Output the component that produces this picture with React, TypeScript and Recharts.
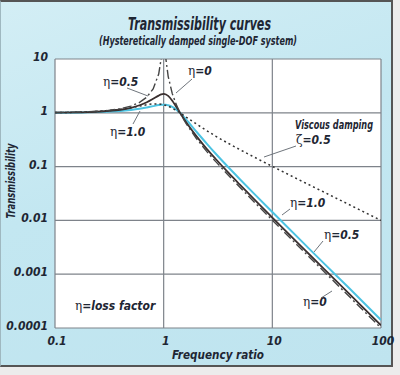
import React from "react";
import { LineChart, Line, XAxis, YAxis, CartesianGrid } from "recharts";

// frequency ratio (x) and transmissibility
const freqRatio = [
  0.1, 0.2, 0.3, 0.4, 0.5, 0.6, 0.7, 0.8, 0.9, 0.95, 1.0, 1.05, 1.1, 1.2, 1.3,
  1.414, 1.6, 2, 2.5, 3, 4, 5, 7, 10, 20, 30, 50, 100,
];
const eta0 = [
  1.01, 1.04, 1.1, 1.19, 1.33, 1.56, 1.96, 2.78, 5.26, 10.3, 100, 9.76, 4.76,
  2.27, 1.45, 1.0, 0.64, 0.333, 0.19, 0.125, 0.0667, 0.0417, 0.0208, 0.0101,
  0.0025, 0.00111, 0.0004, 0.0001,
];
const eta05 = [
  1.01, 1.03, 1.08, 1.14, 1.24, 1.38, 1.57, 1.82, 2.09, 2.2, 2.24, 2.19, 2.06,
  1.68, 1.31, 1.0, 0.68, 0.368, 0.212, 0.14, 0.0745, 0.0466, 0.0233, 0.0113,
  0.0028, 0.00124, 0.00045, 0.000112,
];
const eta10 = [
  1.0, 1.02, 1.05, 1.08, 1.13, 1.19, 1.26, 1.33, 1.39, 1.41, 1.41, 1.41, 1.38,
  1.29, 1.16, 1.0, 0.76, 0.447, 0.265, 0.175, 0.094, 0.059, 0.0295, 0.0143,
  0.00354, 0.00157, 0.00057, 0.000141,
];
const viscous05 = [
  1.01, 1.04, 1.09, 1.16, 1.24, 1.33, 1.41, 1.46, 1.46, 1.44, 1.41, 1.37, 1.33,
  1.22, 1.11, 1.0, 0.84, 0.62, 0.463, 0.37, 0.266, 0.208, 0.146, 0.101, 0.05,
  0.0334, 0.02, 0.01,
];

const xTicks = [0.1, 1, 10, 100];
const xTickLabels = ["0.1", "1", "10", "100"];
const yTicks = [0.0001, 0.001, 0.01, 0.1, 1, 10];
const yTickLabels = ["0.0001", "0.001", "0.01", "0.1", "1", "10"];

const data = freqRatio.map((r, i) => ({
  r,
  eta0: eta0[i],
  eta05: eta05[i],
  eta10: eta10[i],
  viscous: viscous05[i],
}));

const FONT =
  "'Liberation Sans Narrow', 'DejaVu Sans Condensed', 'Liberation Sans', sans-serif";
const INK = "#1e2633";

const labelStyle = {
  fontFamily: FONT,
  fontWeight: 700,
  fontStyle: "italic" as const,
  fill: INK,
};

function XTick({ x, y, payload }: any) {
  const i = xTicks.indexOf(payload.value);
  return (
    <text x={x + 2} y={y + 15} textAnchor="middle" fontSize={12} style={labelStyle}>
      {xTickLabels[i]}
    </text>
  );
}

function YTick({ x, y, payload }: any) {
  const i = yTicks.indexOf(payload.value);
  return (
    <text x={x} y={y + 2} textAnchor="end" fontSize={12} style={labelStyle}>
      {yTickLabels[i]}
    </text>
  );
}

function Greek({ ch }: { ch: string }) {
  return (
    <tspan
      style={{ fontFamily: "'DejaVu Serif', serif", fontWeight: 400, fontStyle: "normal", fill: INK }}
    >
      {ch}
    </tspan>
  );
}

function Eta({ x, y, value }: { x: number; y: number; value: string }) {
  return (
    <text x={x} y={y} fontSize={12} style={labelStyle}>
      <Greek ch="η" />
      {value}
    </text>
  );
}

export default function App() {
  return (
    <div
      style={{
        position: "absolute",
        left: 0,
        top: 0,
        width: 400,
        height: 375,
        background: "#ececec",
      }}
    >
      <div
        style={{
          position: "absolute",
          left: 0,
          top: 0,
          width: 393,
          height: 367,
          background: "linear-gradient(160deg, #d3eef5 0%, #c3e7f1 45%, #bfe4ef 100%)",
          borderTop: "2px solid #555",
          borderRight: "2px solid #555",
          borderBottom: "2px solid #555",
          borderLeft: "1px solid #9fb8c0",
          boxSizing: "border-box",
        }}
      />
      <div style={{ position: "absolute", left: 0, top: 0 }}>
        <LineChart
          width={400}
          height={375}
          data={data}
          margin={{ top: 59, right: 19, bottom: 17, left: 8 }}
        >
          <CartesianGrid stroke="#7e838a" strokeWidth={1.2} fill="#ffffff" fillOpacity={1} />
          <XAxis
            dataKey="r"
            type="number"
            scale="log"
            domain={[0.1, 100]}
            ticks={xTicks}
            allowDataOverflow
            axisLine={false}
            tickLine={false}
            tickSize={0}
            height={30}
            tick={<XTick />}
          />
          <YAxis
            type="number"
            scale="log"
            domain={[0.0001, 10]}
            ticks={yTicks}
            allowDataOverflow
            axisLine={false}
            tickLine={false}
            tickSize={0}
            tickMargin={7}
            width={47}
            tick={<YTick />}
          />
          <Line
            dataKey="eta10"
            type="monotone"
            stroke="#4cc3e2"
            strokeWidth={2}
            dot={false}
            isAnimationActive={false}
          />
          <Line
            dataKey="viscous"
            type="monotone"
            stroke="#333"
            strokeWidth={1.5}
            strokeDasharray="2 3"
            dot={false}
            isAnimationActive={false}
          />
          <Line
            dataKey="eta05"
            type="monotone"
            stroke="#3a2f2f"
            strokeWidth={1.8}
            dot={false}
            isAnimationActive={false}
          />
          <Line
            dataKey="eta0"
            type="linear"
            stroke="#444"
            strokeWidth={1.4}
            strokeDasharray="9 3 2 3"
            dot={false}
            isAnimationActive={false}
          />
        </LineChart>
      </div>
      <svg
        width={400}
        height={375}
        style={{ position: "absolute", left: 0, top: 0, pointerEvents: "none" }}
      >
        <text
          x={128}
          y={30}
          fontSize={17}
          textLength={143}
          lengthAdjust="spacingAndGlyphs"
          style={labelStyle}
        >
          Transmissibility curves
        </text>
        <text
          x={99}
          y={45}
          fontSize={12}
          textLength={198}
          lengthAdjust="spacingAndGlyphs"
          style={labelStyle}
        >
          (Hysteretically damped single-DOF system)
        </text>
        <text
          transform="translate(15,181) rotate(-90)"
          textAnchor="middle"
          fontSize={12}
          textLength={75}
          lengthAdjust="spacingAndGlyphs"
          style={labelStyle}
        >
          Transmissibility
        </text>
        <text
          x={218}
          y={359}
          textAnchor="middle"
          fontSize={12}
          textLength={92}
          lengthAdjust="spacingAndGlyphs"
          style={labelStyle}
        >
          Frequency ratio
        </text>

        <g stroke="#6f757c" strokeWidth={1}>
          <line x1={127} y1={88} x2={148} y2={96} />
          <line x1={192} y1={79} x2={176} y2={93} />
          <line x1={133} y1={124} x2={140} y2={111} />
          <line x1={296} y1={146} x2={264} y2={157} />
          <line x1={290} y1={209} x2={282} y2={215} />
          <line x1={323} y1={241} x2={314} y2={252} />
          <line x1={321} y1={298} x2={332} y2={291} />
        </g>

        <Eta x={103} y={86} value="=0.5" />
        <Eta x={188} y={75} value="=0" />
        <Eta x={110} y={136} value="=1.0" />
        <Eta x={290} y={207} value="=1.0" />
        <Eta x={324} y={239} value="=0.5" />
        <Eta x={303} y={306} value="=0" />
        <Eta x={75} y={310} value="=loss factor" />

        <text
          x={295}
          y={129}
          fontSize={12}
          textLength={78}
          lengthAdjust="spacingAndGlyphs"
          style={labelStyle}
        >
          Viscous damping
        </text>
        <text x={296} y={144} fontSize={12} style={labelStyle}>
          <Greek ch="ζ" />
          =0.5
        </text>
      </svg>
    </div>
  );
}
